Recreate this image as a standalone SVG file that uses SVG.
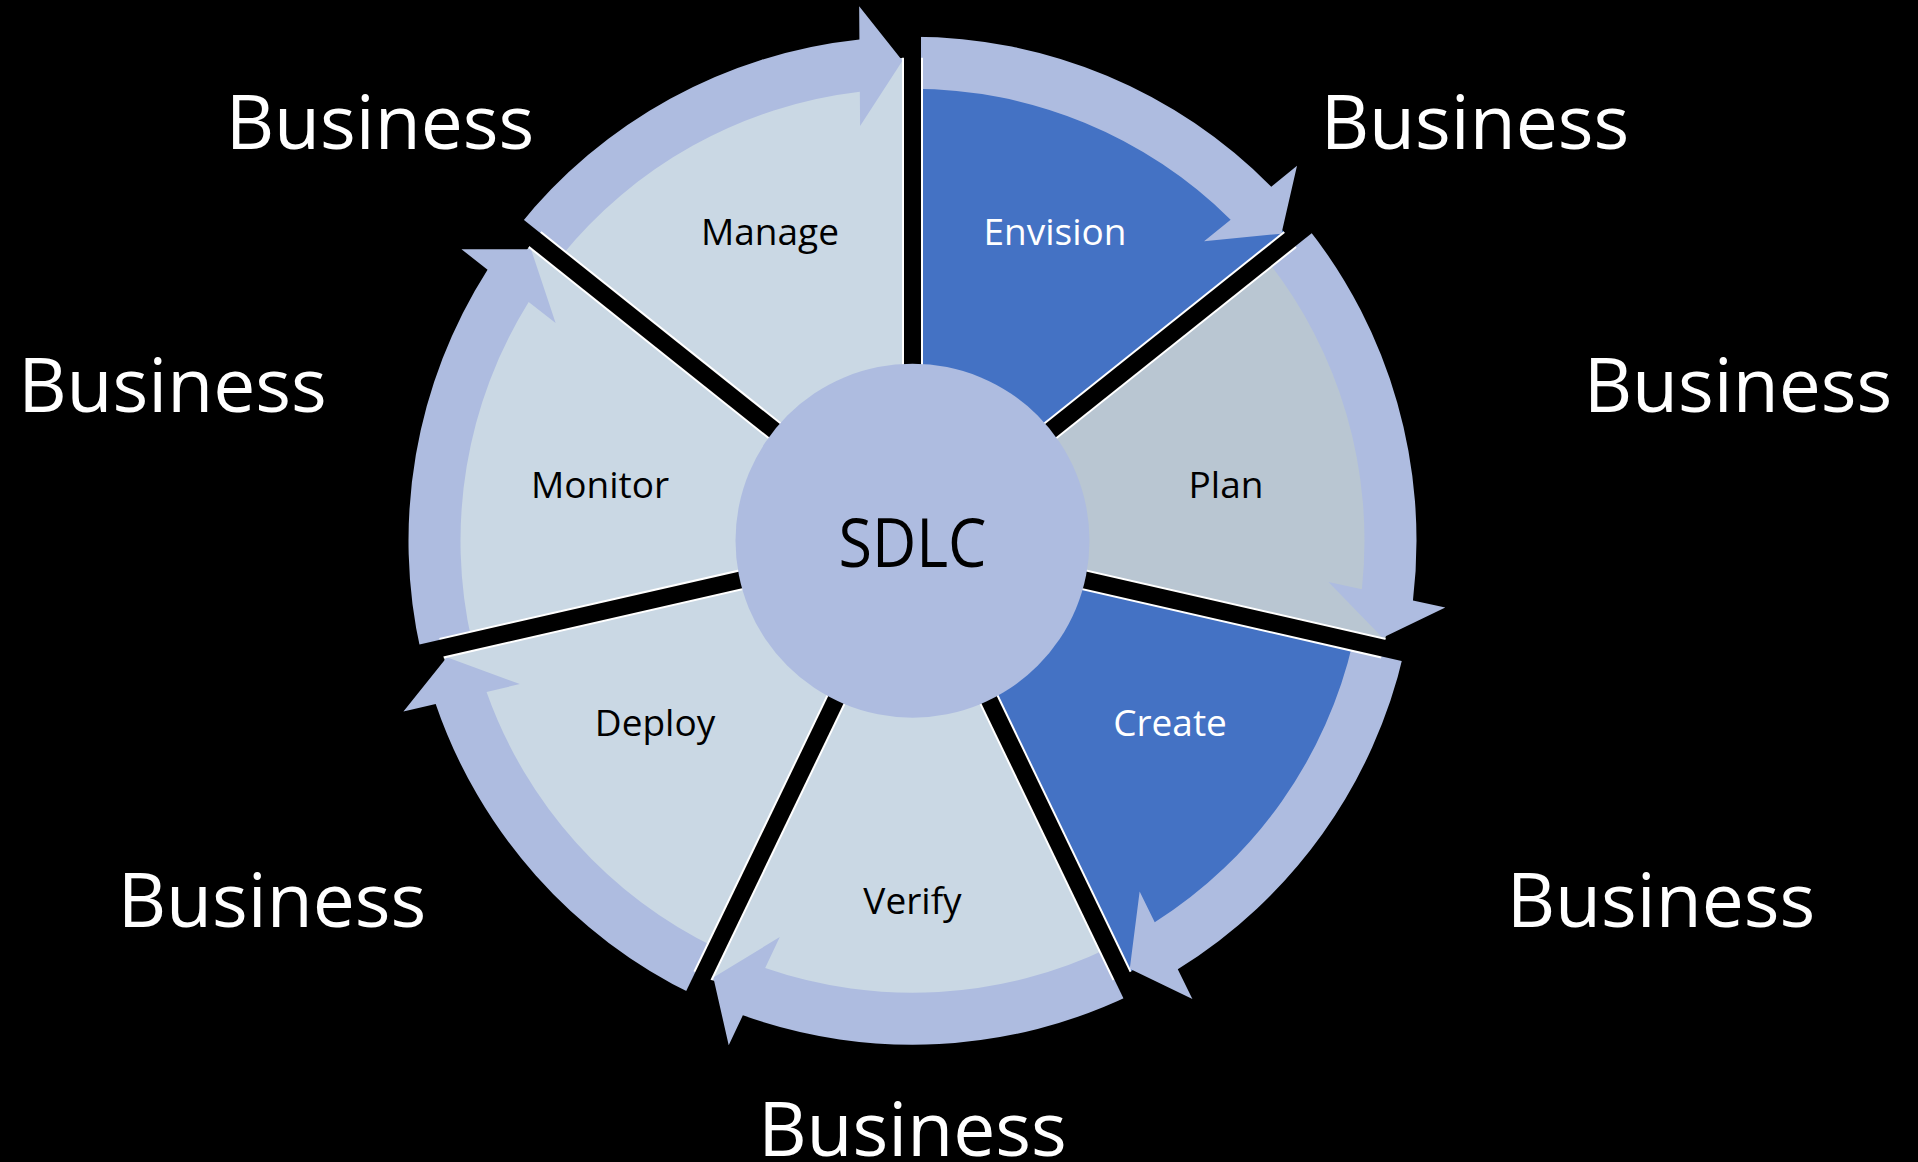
<svg xmlns="http://www.w3.org/2000/svg" width="1918" height="1162" viewBox="0 0 1918 1162">
<style>
.light{fill:#CAD8E4}
.blue{fill:#4472C4}
.plan{fill:#B9C6D2}
.ring{fill:#AEBCE0}
.lbl{font-family:"Open Sans","Liberation Sans",sans-serif;font-size:37px;text-anchor:middle;fill:#000}
.w{fill:#FFFFFF}
.biz{font-family:"Open Sans","Liberation Sans",sans-serif;font-size:75px;text-anchor:middle;fill:#FFFFFF}
.core{font-family:"Open Sans","Liberation Sans",sans-serif;font-size:68px;text-anchor:middle;fill:#000}
.dw{stroke:#FFFFFF;stroke-width:21}
.db{stroke:#000000;stroke-width:17}
</style>
<defs>
<path id="sector" d="M912.5,540.7 L912.5,57.7 A483,483 0 0 1 1290.12,239.55 Z"/>
<path id="arrow" d="M912.5,36.7 A504,504 0 0 1 1271.26,186.71 L1297.01,165.84 L1281.43,233.63 L1204.06,241.17 L1230.64,219.63 A452,452 0 0 0 912.5,88.7 Z"/>
<g id="divider">
<line class="dw" x1="912.5" y1="540.7" x2="912.5" y2="57.7"/>
<line class="db" x1="912.5" y1="540.7" x2="912.5" y2="0"/>
</g>
</defs>
<rect x="0" y="0" width="1918" height="1162" fill="#000000"/>
<g id="nodes">
<g id="node-envision"><use href="#sector" class="blue"/><text class="lbl w" x="1055" y="245">Envision</text></g>
<g id="node-plan"><use href="#sector" class="plan" transform="rotate(51.428571 912.5 540.7)"/><text class="lbl" x="1226" y="498">Plan</text></g>
<g id="node-create"><use href="#sector" class="blue" transform="rotate(102.857143 912.5 540.7)"/><text class="lbl w" x="1170" y="736">Create</text></g>
<g id="node-verify"><use href="#sector" class="light" transform="rotate(154.285714 912.5 540.7)"/><text class="lbl" x="912.5" y="914">Verify</text></g>
<g id="node-deploy"><use href="#sector" class="light" transform="rotate(205.714286 912.5 540.7)"/><text class="lbl" x="655" y="736">Deploy</text></g>
<g id="node-monitor"><use href="#sector" class="light" transform="rotate(257.142857 912.5 540.7)"/><text class="lbl" x="600" y="498">Monitor</text></g>
<g id="node-manage"><use href="#sector" class="light" transform="rotate(308.571429 912.5 540.7)"/><text class="lbl" x="770" y="245">Manage</text></g>
</g>
<g id="connectors">
<use href="#arrow" class="ring"/>
<use href="#arrow" class="ring" transform="rotate(51.428571 912.5 540.7)"/>
<use href="#arrow" class="ring" transform="rotate(102.857143 912.5 540.7)"/>
<use href="#arrow" class="ring" transform="rotate(154.285714 912.5 540.7)"/>
<use href="#arrow" class="ring" transform="rotate(205.714286 912.5 540.7)"/>
<use href="#arrow" class="ring" transform="rotate(257.142857 912.5 540.7)"/>
<use href="#arrow" class="ring" transform="rotate(308.571429 912.5 540.7)"/>
</g>
<g id="dividers">
<use href="#divider"/>
<use href="#divider" transform="rotate(51.428571 912.5 540.7)"/>
<use href="#divider" transform="rotate(102.857143 912.5 540.7)"/>
<use href="#divider" transform="rotate(154.285714 912.5 540.7)"/>
<use href="#divider" transform="rotate(205.714286 912.5 540.7)"/>
<use href="#divider" transform="rotate(257.142857 912.5 540.7)"/>
<use href="#divider" transform="rotate(308.571429 912.5 540.7)"/>
</g>
<g id="node-sdlc">
<circle class="ring" cx="912.5" cy="540.7" r="177"/>
<text class="core" x="912.5" y="567" textLength="148" lengthAdjust="spacingAndGlyphs">SDLC</text>
</g>
<g id="business-labels">
<text class="biz" x="380" y="149">Business</text>
<text class="biz" x="1475" y="149">Business</text>
<text class="biz" x="172.5" y="412">Business</text>
<text class="biz" x="1738" y="412">Business</text>
<text class="biz" x="272" y="927">Business</text>
<text class="biz" x="1661" y="927">Business</text>
<text class="biz" x="912.5" y="1156">Business</text>
</g>
</svg>
